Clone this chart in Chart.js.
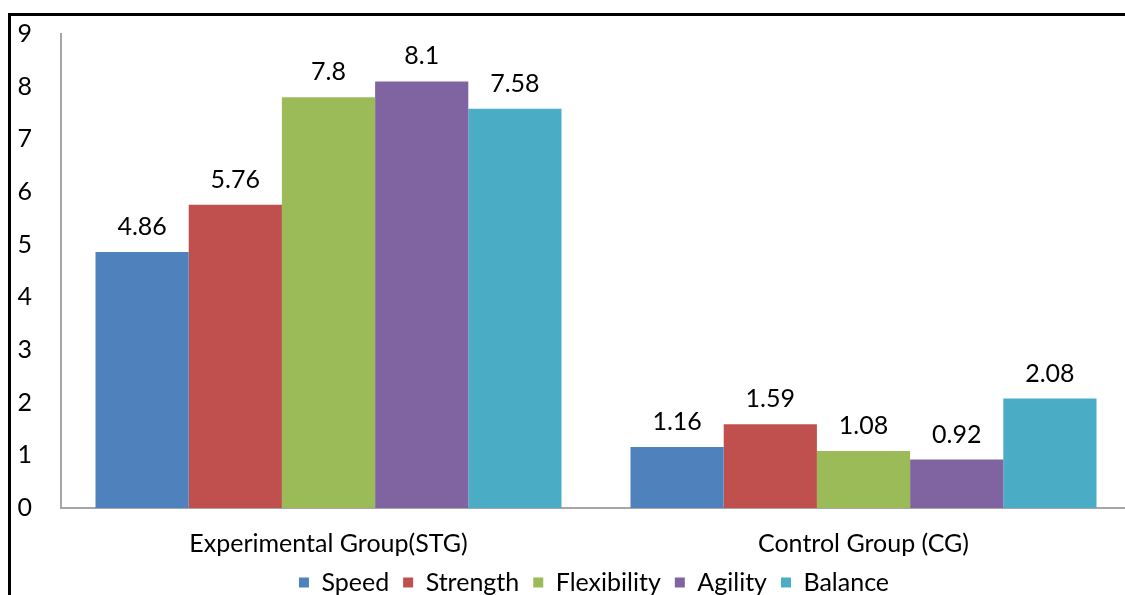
<!DOCTYPE html>
<html lang="en">
	<head>
		<meta charset="UTF-8" />
		<title>Physical Fitness - Group Comparison</title>
		<script src="https://cdn.jsdelivr.net/npm/chart.js@4/dist/chart.umd.min.js"></script>
		<style>
			html, body { margin: 0; padding: 0; background: #fff; overflow: hidden; }
			#frame {
				position: absolute;
				left: 8px;
				top: 13px;
				border-left: 3px solid #000;
				border-top: 3px solid #000;
			}
			#frame div { position: relative; width: 1166px; height: 589px; }
		</style>
	</head>
	<body>
		<div id="frame"><div><canvas id="fitnessChart"></canvas></div></div>

		<script>
			const groups = ["Experimental Group(STG)", "Control Group (CG)"];
			const speed = [4.86, 1.16];
			const strength = [5.76, 1.59];
			const flexibility = [7.8, 1.08];
			const agility = [8.1, 0.92];
			const balance = [7.58, 2.08];
			const yTicks = [0, 1, 2, 3, 4, 5, 6, 7, 8, 9];

			const font = "Lato, 'Open Sans', sans-serif";

			// draws the value above each bar
			const valueLabels = {
				id: "valueLabels",
				afterDatasetsDraw(chart) {
					const ctx = chart.ctx;
					ctx.save();
					ctx.font = "25px " + font;
					ctx.fillStyle = "#000";
					ctx.textAlign = "center";
					ctx.textBaseline = "middle";
					chart.data.datasets.forEach((ds, i) => {
						chart.getDatasetMeta(i).data.forEach((bar, j) => {
							ctx.fillText(ds.data[j], bar.x, bar.y - 25);
						});
					});
					ctx.restore();
				},
			};

			// fixed axis widths, no extra padding from tick labels
			const fixWidth = (w) => (scale) => {
				scale.width = w;
				scale.paddingTop = 0;
				scale.paddingBottom = 0;
			};

			const ctx = document.getElementById("fitnessChart").getContext("2d");

			new Chart(ctx, {
				type: "bar",
				data: {
					labels: groups,
					datasets: [
						{ label: "Speed", data: speed, backgroundColor: "#4F81BD" },
						{ label: "Strength", data: strength, backgroundColor: "#C0504D" },
						{ label: "Flexibility", data: flexibility, backgroundColor: "#9BBB59" },
						{ label: "Agility", data: agility, backgroundColor: "#8064A2" },
						{ label: "Balance", data: balance, backgroundColor: "#4BACC6" },
					],
				},
				options: {
					responsive: true,
					maintainAspectRatio: false,
					animation: false,
					categoryPercentage: 0.871,
					barPercentage: 1,
					layout: { padding: { top: 18, right: 0, bottom: 0 } },
					scales: {
						x: {
							afterFit: (scale) => {
								scale.height = 48;
							},
							grid: { display: false, drawTicks: false },
							border: { color: "#a6a6a6", width: 2 },
							ticks: { color: "#000", font: { family: font, size: 25 }, padding: 21 },
						},
						y: {
							min: 0,
							max: 9,
							afterBuildTicks: (scale) => {
								scale.ticks = yTicks.map((v) => ({ value: v }));
							},
							afterFit: fixWidth(50),
							grid: { display: false, drawTicks: false },
							border: { color: "#a6a6a6", width: 2 },
							ticks: { color: "#000", font: { family: font, size: 25 }, padding: 29 },
						},
						// empty spacer on the right, the plot runs past the frame
						spacer: {
							position: "right",
							min: 0,
							max: 9,
							afterFit: fixWidth(46),
							grid: { display: false, drawTicks: false },
							border: { display: false },
							ticks: { display: false },
						},
					},
					plugins: {
						legend: {
							position: "bottom",
							labels: {
								color: "#000",
								font: { family: font, size: 25 },
								boxWidth: 10,
								boxHeight: 10,
								padding: 14,
							},
						},
						tooltip: { enabled: false },
					},
				},
				plugins: [valueLabels],
			});
		</script>
	</body>
</html>
